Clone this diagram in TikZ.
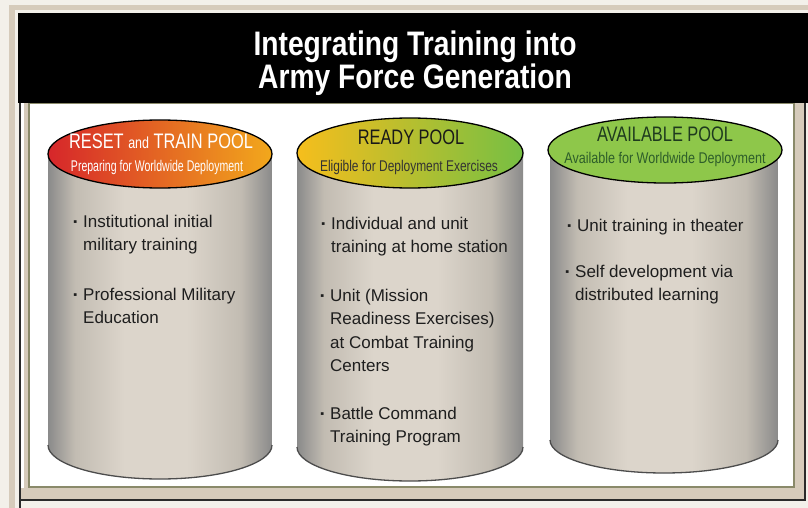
\documentclass[tikz,border=0pt]{standalone}
\usepackage{fontspec}
\usepackage{graphicx}
\setmainfont{Liberation Sans}
\newfontfamily\titlefont[FakeStretch=0.83]{Liberation Sans}
\newfontfamily\headfont[FakeStretch=0.78]{Liberation Sans}
\newfontfamily\subAfont[FakeStretch=0.68]{Liberation Sans}
\newfontfamily\subBfont[FakeStretch=0.77]{Liberation Sans}
\newfontfamily\subCfont[FakeStretch=0.81]{Liberation Sans}
\definecolor{pagebg}{HTML}{F3F0EA}
\definecolor{beige}{HTML}{D6CBBB}
\definecolor{olive}{HTML}{8A8A6A}
\definecolor{framedark}{HTML}{2A2A2A}
\definecolor{bodycol}{HTML}{1E1E1E}
\definecolor{cA}{HTML}{8A8A8A}
\definecolor{cB}{HTML}{C2BCB2}
\definecolor{cC}{HTML}{DCD5CB}
\definecolor{redA}{HTML}{D6262A}
\definecolor{redB}{HTML}{DA3428}
\definecolor{orangeA}{HTML}{F2A81C}
\definecolor{yelA}{HTML}{F6BE1C}
\definecolor{yelB}{HTML}{C6C834}
\definecolor{grnA}{HTML}{76BF43}
\definecolor{grnC}{HTML}{8EC74A}
\definecolor{dkgreen}{HTML}{1E3A1E}
\definecolor{midgreen}{HTML}{2E5E2A}
\pgfdeclarehorizontalshading{cylbody}{100bp}{color(0bp)=(cA); color(25bp)=(cA); color(31bp)=(cB); color(42bp)=(cC); color(56bp)=(cC); color(68bp)=(cB); color(75bp)=(cA); color(100bp)=(cA)}
\newcommand\blt{\llap{\raisebox{2pt}{\fontsize{11}{11}\selectfont ▪}\hspace{6pt}}}
\begin{document}
\begin{tikzpicture}[x=1pt,y=-1pt,
  bodytext/.style={anchor=base west, align=left, font=\fontsize{17}{23.5}\selectfont, text=bodycol, inner sep=0pt},
  headtext/.style={anchor=base, inner sep=0pt},
  topell/.style={draw=black, line width=1.3pt},
  bottomedge/.style={draw=black!70, line width=1.3pt},
]
\useasboundingbox (0,0) rectangle (808,508);
% background and frames
\fill[pagebg] (0,0) rectangle (808,508);
\fill[beige] (9,5) rectangle (808,508);
\fill[pagebg] (15,10) rectangle (808,508);
\fill[beige] (20,103) rectangle (805,500);
\draw[framedark, line width=1.2pt] (20,103) -- (20,508);
\draw[framedark, line width=1.2pt] (20,500) -- (805,500) -- (805,103);
\fill[white] (21,103) rectangle (24,488);
\draw[olive, line width=2pt, fill=white] (29,103) rectangle (794,487);
\fill[black] (18,13) rectangle (808,103);
\node[headtext, text=white, align=center, font=\titlefont\bfseries\fontsize{34}{32.5}\selectfont] (title) at (415,88.5) {Integrating Training into\\Army Force Generation};

% cylinder 1
\shade[shading=cylbody] (48,154) -- (48,445) arc (180:0:112 and 34) -- (272,154) -- cycle;
\draw[bottomedge] (48,445) arc (180:0:112 and 34);
\draw[topell, left color=redA, middle color=redB, right color=orangeA] (160,154) ellipse (112 and 34);
\node[headtext, text=white, font=\headfont\fontsize{21}{21}\selectfont] (h1) at (161,148) {RESET {\fontsize{16}{16}\selectfont and} TRAIN POOL};
\node[headtext, text=white, font=\subAfont\fontsize{15.5}{15.5}\selectfont] (s1) at (157,171) {Preparing for Worldwide Deployment};
\node[bodytext] (c1a) at (83,250.5) {\blt Institutional initial\\military training};
\node[bodytext] (c1b) at (83,323.5) {\blt Professional Military\\Education};

% cylinder 2
\shade[shading=cylbody] (297,153) -- (297,447) arc (180:0:113 and 34) -- (523,153) -- cycle;
\draw[bottomedge] (297,447) arc (180:0:113 and 34);
\draw[topell, left color=yelA, middle color=yelB, right color=grnA] (410,153) ellipse (113 and 35);
\node[headtext, text=black!90, font=\headfont\fontsize{21}{21}\selectfont] (h2) at (411,145) {READY POOL};
\node[headtext, text=black!80, font=\subBfont\fontsize{15.5}{15.5}\selectfont] (s2) at (409,171) {Eligible for Deployment Exercises};
\node[bodytext] (c2a) at (331,252.5) {\blt Individual and unit\\training at home station};
\node[bodytext] (c2b) at (330,371.5) {\blt Unit (Mission\\Readiness Exercises)\\at Combat Training\\Centers};
\node[bodytext] (c2c) at (330,442.5) {\blt Battle Command\\Training Program};

% cylinder 3
\shade[shading=cylbody] (550,150) -- (550,440) arc (180:0:114 and 33) -- (778,150) -- cycle;
\draw[bottomedge] (550,440) arc (180:0:114 and 33);
\draw[topell, fill=grnC] (665,150) ellipse (117 and 33);
\node[headtext, text=dkgreen, font=\headfont\fontsize{21}{21}\selectfont] (h3) at (665,141) {AVAILABLE POOL};
\node[headtext, text=midgreen, font=\subCfont\fontsize{15.5}{15.5}\selectfont] (s3) at (665,164) {Available for Worldwide Deployment};
\node[bodytext] (c3a) at (577,231) {\blt Unit training in theater};
\node[bodytext] (c3b) at (575,300.5) {\blt Self development via\\distributed learning};
\end{tikzpicture}
\end{document}
